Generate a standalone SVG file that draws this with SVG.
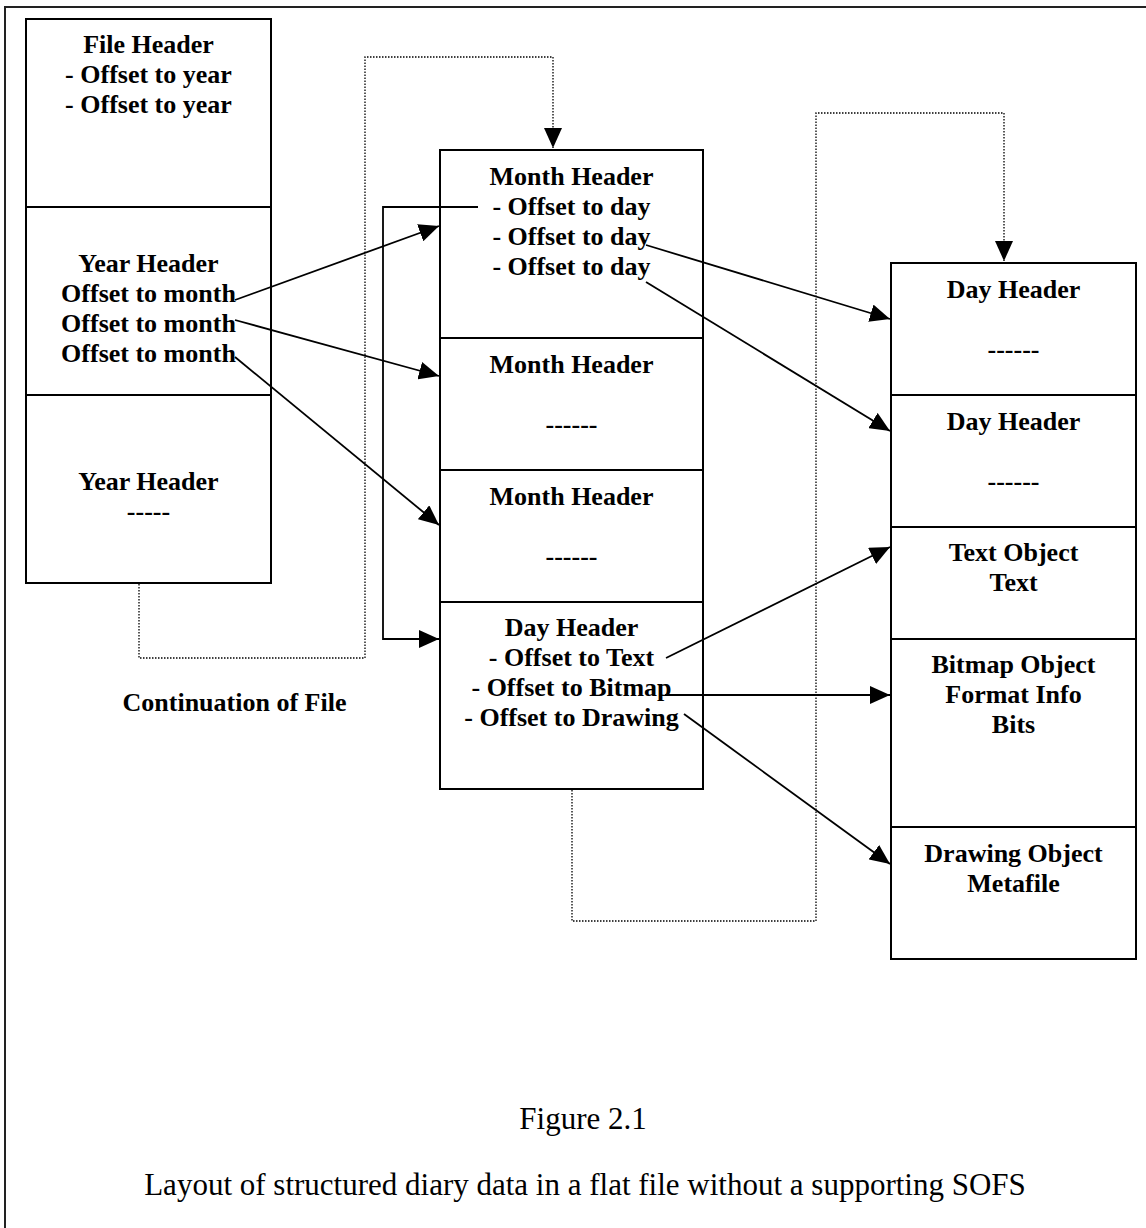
<svg xmlns="http://www.w3.org/2000/svg" width="1146" height="1228" viewBox="0 0 1146 1228">
  <style>
    .box { fill: #fff; stroke: #000; stroke-width: 2; }
    .sep { stroke: #000; stroke-width: 2; }
    .lbl { font-family: "Liberation Serif", "Times New Roman", serif; font-weight: bold; font-size: 26px; fill: #000; text-anchor: middle; }
    .cap { font-family: "Liberation Serif", "Times New Roman", serif; font-size: 31px; fill: #000; text-anchor: middle; }
    .link { fill: none; stroke: #000; stroke-width: 1.8; }
    .dot { fill: none; stroke: #000; stroke-width: 1.3; stroke-dasharray: 1.5 1.5; }
  </style>
  <defs>
    <marker id="head" markerUnits="userSpaceOnUse" markerWidth="20" markerHeight="18" refX="20" refY="9" orient="auto">
      <path d="M0,0 L20,9 L0,18 z" fill="#000"/>
    </marker>
  </defs>

  <rect width="1146" height="1228" fill="#fff"/>
  <!-- page frame -->
  <rect x="5" y="7" width="1160" height="1240" fill="none" stroke="#222" stroke-width="2"/>

  <!-- left column: file / year headers -->
  <g id="file-header">
    <rect class="box" x="26" y="19" width="245" height="188"/>
    <text class="lbl" x="148.5" y="53">File Header</text>
    <text class="lbl" x="148.5" y="83">- Offset to year</text>
    <text class="lbl" x="148.5" y="113">- Offset to year</text>
  </g>
  <g id="year-header-1">
    <rect class="box" x="26" y="207" width="245" height="188"/>
    <text class="lbl" x="148.5" y="272">Year Header</text>
    <text class="lbl" x="148.5" y="302">Offset to month</text>
    <text class="lbl" x="148.5" y="332">Offset to month</text>
    <text class="lbl" x="148.5" y="362">Offset to month</text>
  </g>
  <g id="year-header-2">
    <rect class="box" x="26" y="395" width="245" height="188"/>
    <text class="lbl" x="148.5" y="490">Year Header</text>
    <text class="lbl" x="148.5" y="520">-----</text>
  </g>
  <g id="continuation">
    <text class="lbl" x="234.5" y="711">Continuation of File</text>
  </g>

  <!-- middle column: month headers and a day header -->
  <g id="month-header-1">
    <rect class="box" x="440" y="150" width="263" height="188"/>
    <text class="lbl" x="571.5" y="185">Month Header</text>
    <text class="lbl" x="571.5" y="215">- Offset to day</text>
    <text class="lbl" x="571.5" y="245">- Offset to day</text>
    <text class="lbl" x="571.5" y="275">- Offset to day</text>
  </g>
  <g id="month-header-2">
    <rect class="box" x="440" y="338" width="263" height="132"/>
    <text class="lbl" x="571.5" y="373">Month Header</text>
    <text class="lbl" x="571.5" y="433">------</text>
  </g>
  <g id="month-header-3">
    <rect class="box" x="440" y="470" width="263" height="132"/>
    <text class="lbl" x="571.5" y="505">Month Header</text>
    <text class="lbl" x="571.5" y="565">------</text>
  </g>
  <g id="day-header-mid">
    <rect class="box" x="440" y="602" width="263" height="187"/>
    <text class="lbl" x="571.5" y="636">Day Header</text>
    <text class="lbl" x="571.5" y="666">- Offset to Text</text>
    <text class="lbl" x="571.5" y="696">- Offset to Bitmap</text>
    <text class="lbl" x="571.5" y="726">- Offset to Drawing</text>
  </g>

  <!-- right column: day headers and objects -->
  <g id="day-header-1">
    <rect class="box" x="891" y="263" width="245" height="132"/>
    <text class="lbl" x="1013.5" y="298">Day Header</text>
    <text class="lbl" x="1013.5" y="358">------</text>
  </g>
  <g id="day-header-2">
    <rect class="box" x="891" y="395" width="245" height="132"/>
    <text class="lbl" x="1013.5" y="430">Day Header</text>
    <text class="lbl" x="1013.5" y="490">------</text>
  </g>
  <g id="text-object">
    <rect class="box" x="891" y="527" width="245" height="112"/>
    <text class="lbl" x="1013.5" y="561">Text Object</text>
    <text class="lbl" x="1013.5" y="591">Text</text>
  </g>
  <g id="bitmap-object">
    <rect class="box" x="891" y="639" width="245" height="188"/>
    <text class="lbl" x="1013.5" y="673">Bitmap Object</text>
    <text class="lbl" x="1013.5" y="703">Format Info</text>
    <text class="lbl" x="1013.5" y="733">Bits</text>
  </g>
  <g id="drawing-object">
    <rect class="box" x="891" y="827" width="245" height="132"/>
    <text class="lbl" x="1013.5" y="862">Drawing Object</text>
    <text class="lbl" x="1013.5" y="892">Metafile</text>
  </g>

  <!-- connectors -->
  <g id="connectors">
    <!-- file continuation (dotted) -->
    <path class="dot" d="M139,584 V658 H365 V57 H553 V148" marker-end="url(#head)"/>
    <path class="dot" d="M572,790 V921 H816 V113 H1004 V261" marker-end="url(#head)"/>
    <!-- year to month offsets -->
    <path class="link" d="M235,300 L439,226" marker-end="url(#head)"/>
    <path class="link" d="M235,320 L439,376" marker-end="url(#head)"/>
    <path class="link" d="M235,357 L439,525" marker-end="url(#head)"/>
    <!-- month to day offsets -->
    <path class="link" d="M478,207 H383 V639 H439" marker-end="url(#head)"/>
    <path class="link" d="M646,245 L890,319" marker-end="url(#head)"/>
    <path class="link" d="M646,282 L890,431" marker-end="url(#head)"/>
    <!-- day to object offsets -->
    <path class="link" d="M666,658 L890,547" marker-end="url(#head)"/>
    <path class="link" d="M665,695 L890,695" marker-end="url(#head)"/>
    <path class="link" d="M684,714 L890,864" marker-end="url(#head)"/>
  </g>

  <!-- caption -->
  <text class="cap" x="583" y="1129">Figure 2.1</text>
  <text class="cap" x="585" y="1195">Layout of structured diary data in a flat file without a supporting SOFS</text>
</svg>
